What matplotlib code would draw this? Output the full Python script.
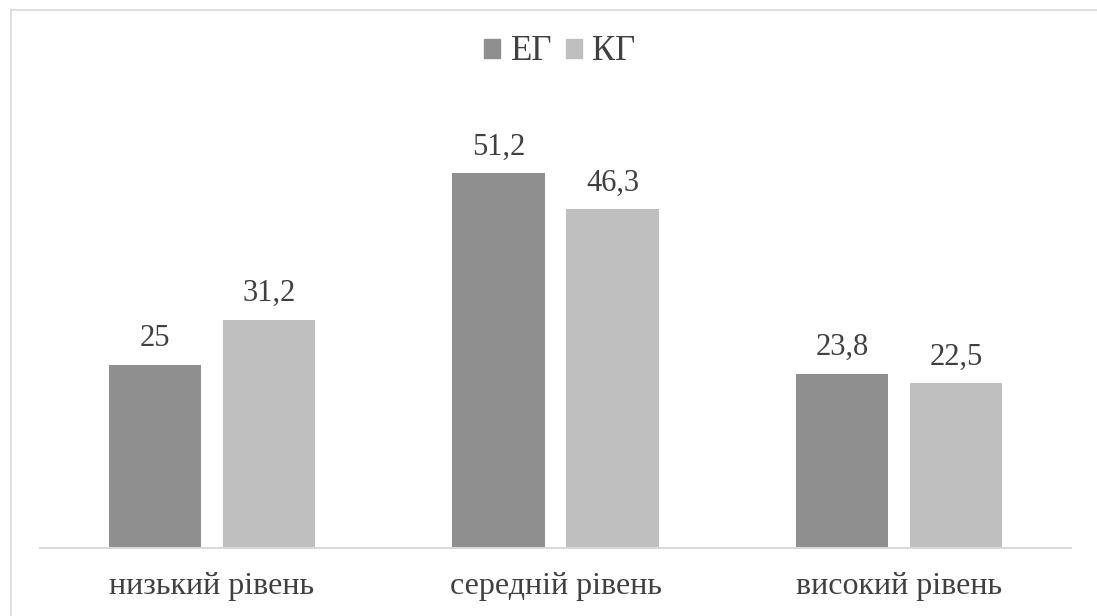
import matplotlib
matplotlib.use("Agg")
import matplotlib.pyplot as plt
import numpy as np
from matplotlib.lines import Line2D

plt.rcParams['font.family'] = ['Liberation Serif', 'DejaVu Serif']

categories = ["низький рівень", "середній рівень", "високий рівень"]
series_names = ["ЕГ", "КГ"]
eg_values = [25, 51.2, 23.8]
kg_values = [31.2, 46.3, 22.5]
colors = ["#8f8f8f", "#bfbfbf"]
text_color = "#404040"

fig = plt.figure(figsize=(10.97, 6.16), dpi=100)
W, H = 1097, 616
ax = fig.add_axes([40 / W, (616 - 548) / H, (1071 - 40) / W, 439 / H])

x = np.arange(len(categories))
width = 0.268
off = 0.166
b1 = ax.bar(x - off, eg_values, width, color=colors[0], label=series_names[0])
b2 = ax.bar(x + off, kg_values, width, color=colors[1], label=series_names[1])

def fmt(v):
    s = f"{v:g}"
    return s.replace(".", ",")

for bars, vals in ((b1, eg_values), (b2, kg_values)):
    for rect, v in zip(bars, vals):
        ax.annotate(fmt(v), (rect.get_x() + rect.get_width() / 2, v),
                    xytext=(0, 13.5), textcoords="offset points",
                    ha="center", va="baseline", fontsize=22, color=text_color)

ax.set_xlim(-0.5, 2.5)
ax.set_ylim(0, 60)
ax.set_xticks(x)
ax.set_xticklabels(categories, fontsize=23, color=text_color)
ax.tick_params(axis="x", length=0, pad=17)
ax.set_yticks([])
for s in ["top", "right", "left"]:
    ax.spines[s].set_visible(False)
ax.spines["bottom"].set_color("#d9d9d9")
ax.spines["bottom"].set_linewidth(1.5)

handles = [plt.Rectangle((0, 0), 1, 1, color=c) for c in colors]
fig.legend(handles, series_names, loc="center", bbox_to_anchor=(560 / W, 1 - 52 / H),
           ncol=2, frameon=False, fontsize=25, handlelength=0.46, handleheight=0.46,
           handletextpad=0.3, columnspacing=0.4, labelcolor=text_color)

# outer border (partly outside the image)
fig.add_artist(Line2D([11 / W, 11 / W], [0, 1 - 10 / H], transform=fig.transFigure,
                      color="#d9d9d9", lw=1.2))
fig.add_artist(Line2D([11 / W, 1], [1 - 10 / H, 1 - 10 / H], transform=fig.transFigure,
                      color="#d9d9d9", lw=1.2))

fig.savefig("out.png", dpi=100)
